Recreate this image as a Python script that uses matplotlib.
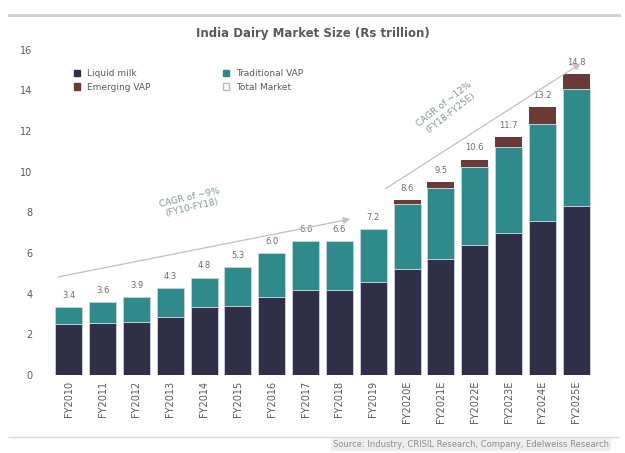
import matplotlib.pyplot as plt
from matplotlib.lines import Line2D

# India dairy market, Rs trillion
years = ['FY2010', 'FY2011', 'FY2012', 'FY2013', 'FY2014', 'FY2015', 'FY2016',
         'FY2017', 'FY2018', 'FY2019', 'FY2020E', 'FY2021E', 'FY2022E',
         'FY2023E', 'FY2024E', 'FY2025E']
liquid_milk = [2.5, 2.55, 2.6, 2.85, 3.35, 3.4, 3.85, 4.2, 4.2, 4.6, 5.2, 5.7,
               6.4, 7.0, 7.6, 8.3]
traditional_vap = [0.85, 1.05, 1.25, 1.45, 1.45, 1.9, 2.15, 2.4, 2.4, 2.6, 3.2,
                   3.5, 3.85, 4.2, 4.75, 5.75]
emerging_vap = [0, 0, 0, 0, 0, 0, 0, 0, 0, 0, 0.2, 0.3, 0.35, 0.5, 0.85, 0.75]

c_liquid = '#2f2f47'
c_trad = '#2f8a8c'
c_emerg = '#6b3a36'

fig = plt.figure(figsize=(6.25, 4.53), dpi=100)
ax = fig.add_axes([0.083, 0.172, 0.866, 0.718])

x = list(range(len(years)))
w = 0.8
ax.bar(x, liquid_milk, w, color=c_liquid, edgecolor='#c9d3e0', linewidth=0.6)
ax.bar(x, traditional_vap, w, bottom=liquid_milk, color=c_trad,
       edgecolor='#c9d3e0', linewidth=0.6)
base2 = [a + b for a, b in zip(liquid_milk, traditional_vap)]
ax.bar(x, emerging_vap, w, bottom=base2, color=c_emerg, linewidth=0)

totals = [a + b for a, b in zip(base2, emerging_vap)]
for i, t in enumerate(totals):
    ax.text(i, t + 0.35, f'{t:.1f}', ha='center', va='bottom', fontsize=6,
            color='#7a6a5a')

# CAGR trend lines
ax.annotate('', xy=(8.4, 7.7), xytext=(-0.4, 4.8),
            arrowprops=dict(arrowstyle='-|>', color='#b8c4c4', lw=0.9))
ax.annotate('', xy=(15.2, 15.4), xytext=(9.3, 9.1),
            arrowprops=dict(arrowstyle='-|>', color='#b8c4c4', lw=0.9))
ax.text(3.6, 8.5, 'CAGR of ~9%\n(FY10-FY18)', fontsize=6.5, color='#7f9a98',
        ha='center', va='center', rotation=13)
ax.text(11.2, 13.1, 'CAGR of ~12%\n(FY18-FY25E)', fontsize=6.5,
        color='#7f9a98', ha='center', va='center', rotation=38)

ax.set_xlim(-0.5, len(years) - 0.5)
ax.set_ylim(0, 16)
ax.set_yticks(range(0, 17, 2))
ax.set_xticks(x)
ax.set_xticklabels(years, rotation=90, fontsize=7, color='#595959')
ax.tick_params(axis='y', labelsize=7, labelcolor='#595959', length=0, pad=14)
ax.tick_params(axis='x', length=0, pad=4)
for s in ax.spines.values():
    s.set_visible(False)

handles = [
    plt.Rectangle((0, 0), 1, 1, color=c_liquid),
    plt.Rectangle((0, 0), 1, 1, color=c_trad),
    plt.Rectangle((0, 0), 1, 1, color=c_emerg),
    plt.Rectangle((0, 0), 1, 1, facecolor='white', edgecolor='#bbbbbb'),
]
labels = ['Liquid milk', 'Emerging VAP', 'Traditional VAP', 'Total Market']
handles = [handles[0], handles[2], handles[1], handles[3]]
fig.legend(handles, labels, ncol=2, loc='upper left',
           bbox_to_anchor=(0.105, 0.865), frameon=False, fontsize=6.5,
           handlelength=0.7, handleheight=0.7, columnspacing=8,
           labelspacing=0.5, labelcolor='#595959')

fig.text(0.5, 0.925, 'India Dairy Market Size (Rs trillion)', ha='center',
         va='center', fontsize=8.5, fontweight='bold', color='#595959')

# frame lines and source note
fig.add_artist(Line2D([0.015, 0.99], [0.967, 0.967], color='#cfcfcf', lw=2))
fig.add_artist(Line2D([0.015, 0.99], [0.035, 0.035], color='#d9d9d9', lw=1))
fig.text(0.975, 0.018, 'Source: Industry, CRISIL Research, Company, '
         'Edelweiss Research', ha='right', va='center', fontsize=6,
         color='#8c8c8c',
         bbox=dict(facecolor='#eeeeee', edgecolor='none', pad=1.5))

fig.savefig('out.png', dpi=100)
